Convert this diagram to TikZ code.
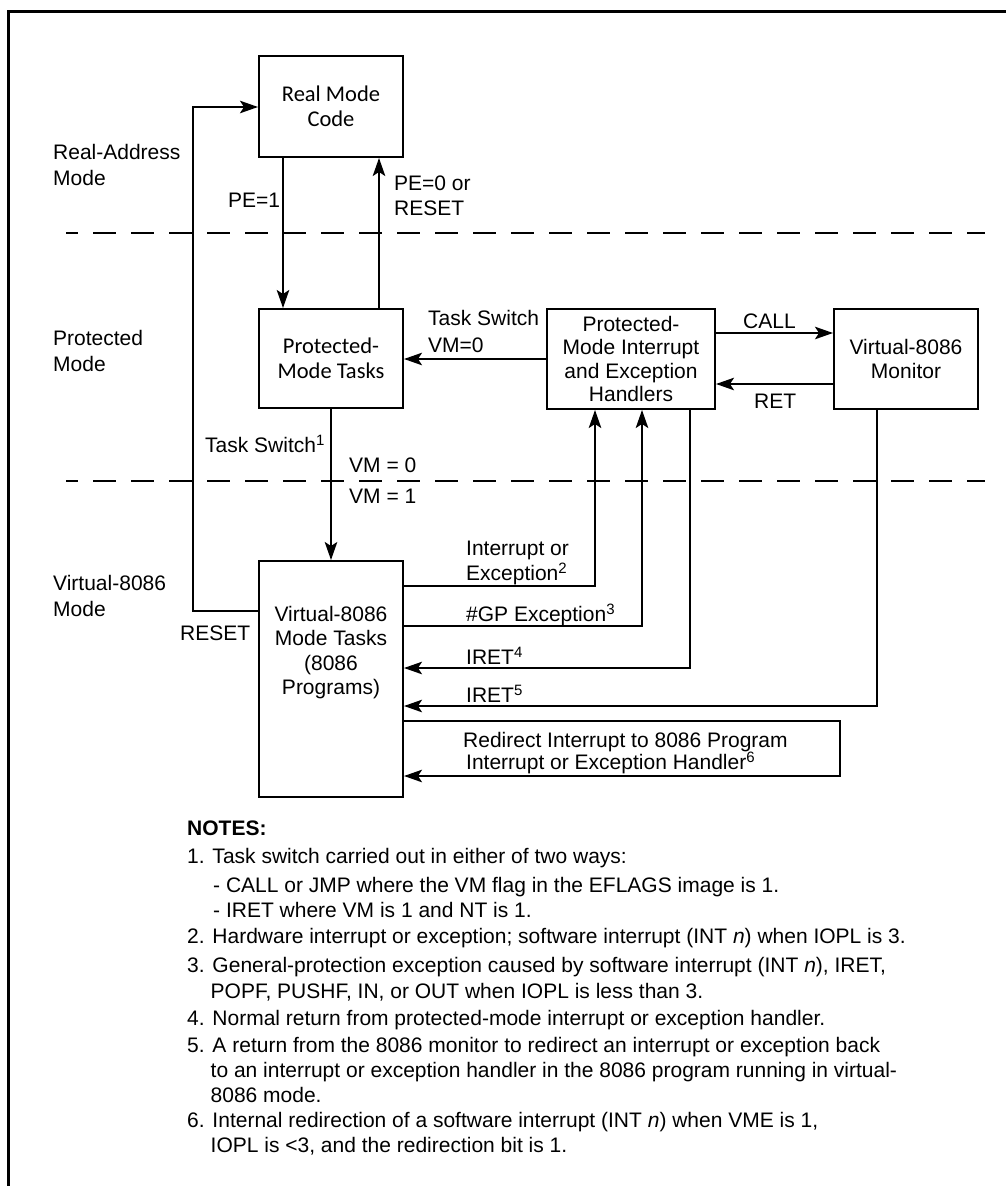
\documentclass[tikz,border=0pt]{standalone}
\usepackage{fontspec}
\setmainfont{Liberation Sans}
\newfontfamily\clearfont{Carlito}
\usetikzlibrary{arrows.meta}
\newcommand\lbl{\fontsize{21}{24.5}\selectfont}
\newcommand\supnum[1]{\raisebox{7pt}{\fontsize{15}{15}\selectfont #1}}
\begin{document}
\begin{tikzpicture}[x=1pt,y=-1pt,
  mbox/.style={draw,line width=2pt,inner sep=0pt,align=center,font=\lbl},
  cbox/.style={mbox,font=\clearfont\fontsize{22.5}{25}\selectfont},
  arr/.style={line width=1.8pt,-{Stealth[length=18pt,width=12.5pt,inset=4pt]}},
  ln/.style={line width=1.8pt},
  lab/.style={anchor=base west,inner sep=0pt,font=\lbl},
  clab/.style={anchor=base,inner sep=0pt,font=\lbl},
  note/.style={anchor=base west,inner sep=0pt,font=\fontsize{21}{24}\selectfont},
  dashline/.style={line width=2pt,dash pattern=on 22.5pt off 15.5pt,dash phase=11pt}]
\useasboundingbox (0,0) rectangle (1005,1186);
\draw[line width=3pt] (8.5,1195) -- (8.5,11) -- (1010,11);

% dashed separators
\draw[dashline] (66,233) -- (985,233);
\draw[dashline] (66,481) -- (985,481);

% boxes
\node[cbox,minimum width=144pt,minimum height=101pt] (rm) at (331,106.5) {Real Mode\\Code};
\node[cbox,minimum width=144pt,minimum height=99pt] (pmt) at (331,358.5) {Protected-\\Mode Tasks};
\node[mbox,font=\fontsize{21}{23.3}\selectfont,minimum width=168pt,minimum height=100pt] (pmi) at (631,359) {Protected-\\Mode Interrupt\\and Exception\\Handlers};
\node[mbox,minimum width=144pt,minimum height=100pt] (mon) at (906,359) {Virtual-8086\\Monitor};
\node[mbox,minimum width=144pt,minimum height=236pt] (v86) at (331,679) {};
\node[clab] (v1) at (331,621) {Virtual-8086};
\node[clab] (v2) at (331,645) {Mode Tasks};
\node[clab] (v3) at (331,670) {(8086};
\node[clab] (v4) at (331,694) {Programs)};

% helper coordinates
\coordinate (xa) at (283,0);
\coordinate (xb) at (379,0);
\coordinate (xl) at (193,0);
\coordinate (xi) at (595,0);
\coordinate (xg) at (642,0);
\coordinate (xr4) at (690,0);
\coordinate (xr5) at (877,0);
\coordinate (xd) at (840,0);
\coordinate (yrm) at (0,107);
\coordinate (yrs) at (0,611);
\coordinate (ycall) at (0,333);
\coordinate (yret) at (0,384);
\coordinate (yi) at (0,586);
\coordinate (yg) at (0,626);
\coordinate (y4) at (0,668);
\coordinate (y5) at (0,706);
\coordinate (yd1) at (0,721);
\coordinate (yd2) at (0,776);

% connectors
\draw[arr] (rm.south -| xa) -- (pmt.north -| xa);
\draw[arr] (pmt.north -| xb) -- (rm.south -| xb);
\draw[arr] (pmi.west) -- (pmt.east |- pmi.west);
\draw[arr] (pmi.east |- ycall) -- (mon.west |- ycall);
\draw[arr] (mon.west |- yret) -- (pmi.east |- yret);
\draw[arr] (pmt.south) -- (v86.north);
\draw[arr] (v86.west |- yrs) -| (xl |- yrm) -- (rm.west |- yrm);
\draw[arr] (v86.east |- yi) -| (pmi.south -| xi);
\draw[arr] (v86.east |- yg) -| (pmi.south -| xg);
\draw[arr] (pmi.south -| xr4) |- (v86.east |- y4);
\draw[arr] (mon.south -| xr5) |- (v86.east |- y5);
\draw[arr] (v86.east |- yd1) -- (xd |- yd1) -- (xd |- yd2) -- (v86.east |- yd2);

% region labels
\node[lab] (l1) at (53,159) {Real-Address};
\node[lab] (l2) at (53,185) {Mode};
\node[lab] (l3) at (53,345) {Protected};
\node[lab] (l4) at (53,371) {Mode};
\node[lab] (l5) at (53,590) {Virtual-8086};
\node[lab] (l6) at (53,616) {Mode};

% connector labels
\node[lab] (pe1) at (228,207) {PE=1};
\node[lab] (pe0) at (394,190) {PE=0 or};
\node[lab] (rs1) at (394,215) {RESET};
\node[lab] (ts1) at (428,325) {Task Switch};
\node[lab] (ts2) at (428,352) {VM=0};
\node[lab] (call) at (743,328) {CALL};
\node[lab] (ret) at (754,408) {RET};
\node[lab] (ts3) at (205,452) {Task Switch\supnum{1}};
\node[lab] (vm0) at (349,472) {VM = 0};
\node[lab] (vm1) at (349,503) {VM = 1};
\node[lab] (ie1) at (466,555) {Interrupt or};
\node[lab] (ie2) at (466,580) {Exception\supnum{2}};
\node[lab] (gp) at (466,621) {\#GP Exception\supnum{3}};
\node[lab] (ir4) at (466,664) {IRET\supnum{4}};
\node[lab] (ir5) at (466,702) {IRET\supnum{5}};
\node[lab] (rd1) at (463,747) {Redirect Interrupt to 8086 Program};
\node[lab] (rd2) at (466,769) {Interrupt or Exception Handler\supnum{6}};
\node[lab] (rs2) at (180,640) {RESET};

% notes
\node[note,font=\fontsize{21}{24}\selectfont\bfseries] (nt) at (187,835) {NOTES:};
\node[note] (n1) at (187,863) {1. Task switch carried out in either of two ways:};
\node[note] (n1a) at (213,892) {- CALL or JMP where the VM flag in the EFLAGS image is 1.};
\node[note] (n1b) at (213,917) {- IRET where VM is 1 and NT is 1.};
\node[note] (n2) at (187,943) {2. Hardware interrupt or exception; software interrupt (INT \textit{n}) when IOPL is 3.};
\node[note] (n3) at (187,972) {3. General-protection exception caused by software interrupt (INT \textit{n}), IRET,};
\node[note] (n3a) at (210.5,998) {POPF, PUSHF, IN, or OUT when IOPL is less than 3.};
\node[note] (n4) at (187,1025) {4. Normal return from protected-mode interrupt or exception handler.};
\node[note] (n5) at (187,1052) {5. A return from the 8086 monitor to redirect an interrupt or exception back};
\node[note] (n5a) at (210.5,1077) {to an interrupt or exception handler in the 8086 program running in virtual-};
\node[note] (n5b) at (210.5,1102) {8086 mode.};
\node[note] (n6) at (187,1127) {6. Internal redirection of a software interrupt (INT \textit{n}) when VME is 1,};
\node[note] (n6a) at (210.5,1152) {IOPL is <3, and the redirection bit is 1.};
\end{tikzpicture}
\end{document}
